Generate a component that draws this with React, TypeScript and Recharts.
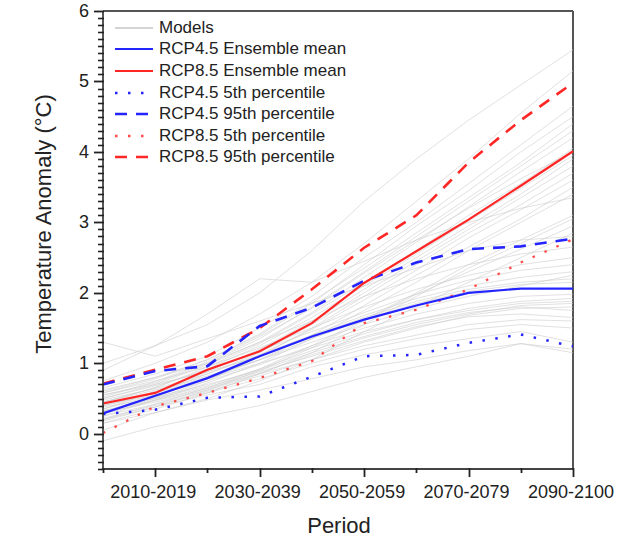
import React from 'react';
import { LineChart, Line, XAxis, YAxis, ReferenceLine } from 'recharts';

const periods = ['2000-2009', '2010-2019', '2020-2029', '2030-2039', '2040-2049', '2050-2059', '2060-2069', '2070-2079', '2080-2089', '2090-2100'];
const labeledPeriods = ['2010-2019', '2030-2039', '2050-2059', '2070-2079', '2090-2100'];
const yTickLabels = [0, 1, 2, 3, 4, 5, 6];
const yDomain = [-0.5, 6];

const rcp45Mean = [0.29, 0.54, 0.79, 1.10, 1.38, 1.62, 1.82, 2.00, 2.06, 2.06];
const rcp85Mean = [0.43, 0.58, 0.91, 1.17, 1.57, 2.14, 2.59, 3.04, 3.52, 4.01];
const rcp45P5 = [0.28, 0.34, 0.51, 0.53, 0.81, 1.10, 1.12, 1.29, 1.41, 1.24];
const rcp45P95 = [0.70, 0.89, 0.96, 1.53, 1.79, 2.17, 2.43, 2.62, 2.66, 2.77];
const rcp85P5 = [0.01, 0.39, 0.58, 0.79, 1.03, 1.57, 1.76, 2.05, 2.43, 2.76];
const rcp85P95 = [0.71, 0.91, 1.10, 1.50, 2.05, 2.64, 3.10, 3.85, 4.45, 4.98];

const modelRuns: number[][] = [
  [0.30, 0.45, 0.62, 0.85, 1.05, 1.25, 1.40, 1.55, 1.62, 1.60],
  [0.40, 0.55, 0.75, 0.98, 1.25, 1.50, 1.70, 1.85, 1.95, 1.98],
  [0.20, 0.38, 0.55, 0.70, 0.95, 1.12, 1.25, 1.35, 1.45, 1.30],
  [0.55, 0.70, 0.88, 1.10, 1.38, 1.65, 1.88, 2.05, 2.15, 2.20],
  [0.35, 0.60, 0.80, 1.05, 1.30, 1.55, 1.78, 1.95, 2.10, 2.25],
  [0.25, 0.42, 0.60, 0.82, 1.05, 1.30, 1.50, 1.68, 1.78, 1.80],
  [0.62, 0.80, 1.00, 1.30, 1.60, 1.95, 2.20, 2.40, 2.55, 2.65],
  [0.45, 0.62, 0.82, 1.05, 1.35, 1.62, 1.85, 2.02, 2.12, 2.15],
  [0.15, 0.30, 0.48, 0.62, 0.78, 0.95, 1.05, 1.18, 1.28, 1.20],
  [0.50, 0.68, 0.90, 1.18, 1.45, 1.72, 1.98, 2.18, 2.32, 2.40],
  [0.30, 0.52, 0.70, 0.90, 1.15, 1.38, 1.58, 1.72, 1.80, 1.75],
  [0.38, 0.50, 0.68, 0.92, 1.18, 1.42, 1.62, 1.78, 1.88, 1.92],
  [0.28, 0.48, 0.66, 0.88, 1.10, 1.32, 1.52, 1.66, 1.70, 1.65],
  [0.58, 0.75, 0.95, 1.22, 1.50, 1.80, 2.05, 2.25, 2.40, 2.50],
  [0.42, 0.58, 0.78, 1.00, 1.22, 1.45, 1.62, 1.75, 1.85, 1.88],
  [0.22, 0.40, 0.58, 0.78, 1.00, 1.20, 1.35, 1.48, 1.55, 1.50],
  [0.48, 0.64, 0.85, 1.12, 1.40, 1.68, 1.92, 2.10, 2.22, 2.30],
  [0.33, 0.47, 0.64, 0.86, 1.12, 1.36, 1.55, 1.70, 1.82, 1.85],
  [0.40, 0.58, 0.85, 1.15, 1.55, 2.00, 2.45, 2.90, 3.35, 3.80],
  [0.20, 0.42, 0.65, 0.92, 1.25, 1.62, 2.00, 2.40, 2.75, 3.10],
  [0.55, 0.72, 1.00, 1.35, 1.80, 2.30, 2.80, 3.30, 3.80, 4.30],
  [0.05, 0.30, 0.50, 0.75, 1.05, 1.45, 1.80, 2.15, 2.50, 2.85],
  [0.65, 0.85, 1.10, 1.50, 1.95, 2.50, 3.00, 3.55, 4.10, 4.65],
  [0.35, 0.55, 0.78, 1.05, 1.40, 1.82, 2.25, 2.65, 3.05, 3.50],
  [0.25, 0.48, 0.72, 1.00, 1.35, 1.75, 2.15, 2.60, 3.00, 3.40],
  [0.45, 0.65, 0.95, 1.28, 1.70, 2.15, 2.60, 3.10, 3.55, 4.05],
  [0.50, 0.70, 0.98, 1.30, 1.72, 2.22, 2.72, 3.22, 3.72, 4.20],
  [0.30, 0.50, 0.75, 1.10, 1.50, 1.95, 2.40, 2.85, 3.25, 3.70],
  [0.60, 0.80, 1.05, 1.40, 1.85, 2.40, 2.95, 3.45, 4.00, 4.50],
  [0.15, 0.35, 0.58, 0.85, 1.15, 1.55, 1.95, 2.35, 2.70, 3.05],
  [0.40, 0.60, 0.88, 1.20, 1.60, 2.05, 2.50, 2.95, 3.40, 3.90],
  [0.32, 0.52, 0.80, 1.12, 1.48, 1.90, 2.32, 2.78, 3.18, 3.60],
  [0.52, 0.74, 1.02, 1.38, 1.78, 2.28, 2.75, 3.20, 3.62, 4.00],
  [0.18, 0.38, 0.62, 0.90, 1.22, 1.60, 1.98, 2.30, 2.62, 2.95],
  [0.44, 0.66, 0.92, 1.25, 1.65, 2.10, 2.55, 3.02, 3.48, 3.95],
  [0.58, 0.78, 1.05, 1.42, 1.88, 2.35, 2.85, 3.35, 3.85, 4.40],
  [1.30, 1.10, 1.35, 1.60, 1.85, 2.10, 2.35, 2.60, 2.75, 2.80],
  [1.00, 1.25, 1.70, 2.20, 2.15, 2.45, 2.75, 3.00, 3.20, 3.35],
  [0.90, 1.25, 1.55, 2.00, 2.60, 3.30, 3.90, 4.45, 4.95, 5.45],
  [0.75, 1.00, 1.30, 1.70, 2.15, 2.70, 3.30, 3.90, 4.55, 5.15],
  [-0.10, 0.10, 0.25, 0.40, 0.60, 0.80, 0.95, 1.10, 1.28, 1.15],
];

const BLUE = '#2424ff';
const RED = '#ff2626';
const GRAY = '#cdcdcd';
const FONT = '"Liberation Sans", Arial, sans-serif';

const data = periods.map((p, i) => {
  const row: Record<string, number | string> = {
    period: p,
    r45mean: rcp45Mean[i],
    r85mean: rcp85Mean[i],
    r45p5: rcp45P5[i],
    r45p95: rcp45P95[i],
    r85p5: rcp85P5[i],
    r85p95: rcp85P95[i],
  };
  modelRuns.forEach((run, k) => {
    row['m' + k] = run[i];
  });
  return row;
});

// Major tick draws its label plus the 0.1-step minor ticks below it (axis decoration)
const YTick = (props: any) => {
  const x = Number(props.x);
  const y = Number(props.y);
  const v = Number(props.payload.value);
  const unit = 458 / (yDomain[1] - yDomain[0]);
  const nMinor = v === yTickLabels[0] ? 5 : 9;
  const minors = [];
  for (let k = 1; k <= nMinor; k++) {
    const yy = Math.round(y + (k * unit) / 10) + 0.5;
    minors.push(
      <line key={k} x1={x - 5} x2={x + 1} y1={yy} y2={yy} stroke="#222" strokeWidth={1.6} />
    );
  }
  const ym = Math.round(y) + 0.5;
  return (
    <g>
      <line x1={x - 9} x2={x + 1} y1={ym} y2={ym} stroke="#222" strokeWidth={1.8} />
      {minors}
      <text x={x - 14} y={y + 6} textAnchor="end" fontSize={18} fontFamily={FONT} fill="#222">
        {v}
      </text>
    </g>
  );
};

const XTick = (props: any) => {
  const x = Number(props.x);
  const y = Number(props.y);
  const label = props.payload.value;
  const major = labeledPeriods.includes(label);
  const xm = Math.round(x) + 0.5;
  return (
    <g>
      <line x1={xm} x2={xm} y1={y - 1} y2={y + (major ? 8 : 4)} stroke="#222" strokeWidth={1.8} />
      {major && (
        <text x={x - 2} y={y + 29} textAnchor="middle" fontSize={18} fontFamily={FONT} fill="#222">
          {label}
        </text>
      )}
    </g>
  );
};

const legendItems = [
  { name: 'Models', color: '#d4d4d4', dash: undefined as string | undefined, w: 2 },
  { name: 'RCP4.5 Ensemble mean', color: BLUE, dash: undefined, w: 2.2 },
  { name: 'RCP8.5 Ensemble mean', color: RED, dash: undefined, w: 2.2 },
  { name: 'RCP4.5 5th percentile', color: BLUE, dash: '2.5 10.5', w: 2.5 },
  { name: 'RCP4.5 95th percentile', color: BLUE, dash: '12 9', w: 2.6 },
  { name: 'RCP8.5 5th percentile', color: '#ff4a4a', dash: '2.5 10.5', w: 2.3 },
  { name: 'RCP8.5 95th percentile', color: RED, dash: '12 9', w: 2.6 },
];

const Legend = () => (
  <div style={{ position: 'absolute', left: 113, top: 17, fontFamily: FONT, fontSize: 17, color: '#222' }}>
    {legendItems.map((it) => (
      <div key={it.name} style={{ display: 'flex', alignItems: 'center', height: 21.6 }}>
        <svg width={44} height={10} style={{ marginRight: 2 }}>
          <line x1={2} x2={40} y1={5} y2={5} stroke={it.color} strokeWidth={it.w} strokeDasharray={it.dash} />
        </svg>
        <span>{it.name}</span>
      </div>
    ))}
  </div>
);

export default function App() {
  return (
    <div style={{ position: 'relative', width: 640, height: 539 }}>
      <style>{'body{margin:0;background:#fff}'}</style>
      <LineChart width={640} height={539} data={data} margin={{ top: 11, right: 67, left: 0, bottom: 0 }}>
        <XAxis
          dataKey="period"
          height={70}
          interval={0}
          tickSize={0}
          tickMargin={0}
          tickLine={false}
          tick={(p: any) => <XTick {...p} />}
          axisLine={{ stroke: '#444', strokeWidth: 1.8 }}
          label={(p: any) => (
            <text x={339} y={533} textAnchor="middle" fontSize={22} fontFamily={FONT} fill="#222">
              Period
            </text>
          )}
        />
        <YAxis
          width={103}
          type="number"
          domain={yDomain}
          ticks={yTickLabels}
          interval={0}
          tickSize={0}
          tickMargin={0}
          tickLine={false}
          tick={(p: any) => <YTick {...p} />}
          axisLine={{ stroke: '#444', strokeWidth: 1.8 }}
          allowDataOverflow
          label={(p: any) => (
            <text
              x={51}
              y={224}
              transform="rotate(-90 51 224)"
              textAnchor="middle"
              fontSize={22}
              fontFamily={FONT}
              fill="#222"
            >
              Temperature Anomaly (°C)
            </text>
          )}
        />
        <ReferenceLine y={6} stroke="#555" strokeWidth={2} />
        <ReferenceLine x="2090-2100" stroke="#555" strokeWidth={2} />
        {modelRuns.map((_, k) => (
          <Line
            key={'m' + k}
            dataKey={'m' + k}
            stroke={GRAY}
            strokeOpacity={0.6}
            strokeWidth={1}
            dot={false}
            activeDot={false}
            isAnimationActive={false}
          />
        ))}
        <Line dataKey="r85p5" stroke="#ff4a4a" strokeWidth={2.3} strokeDasharray="2.5 10.5" dot={false} isAnimationActive={false} />
        <Line dataKey="r45p5" stroke={BLUE} strokeWidth={2.5} strokeDasharray="2.5 10.5" dot={false} isAnimationActive={false} />
        <Line dataKey="r85p95" stroke={RED} strokeWidth={2.6} strokeDasharray="12 9" dot={false} isAnimationActive={false} />
        <Line dataKey="r45p95" stroke={BLUE} strokeWidth={2.6} strokeDasharray="12 9" dot={false} isAnimationActive={false} />
        <Line dataKey="r85mean" stroke={RED} strokeWidth={2.2} dot={false} isAnimationActive={false} />
        <Line dataKey="r45mean" stroke={BLUE} strokeWidth={2.2} dot={false} isAnimationActive={false} />
      </LineChart>
      <Legend />
    </div>
  );
}
